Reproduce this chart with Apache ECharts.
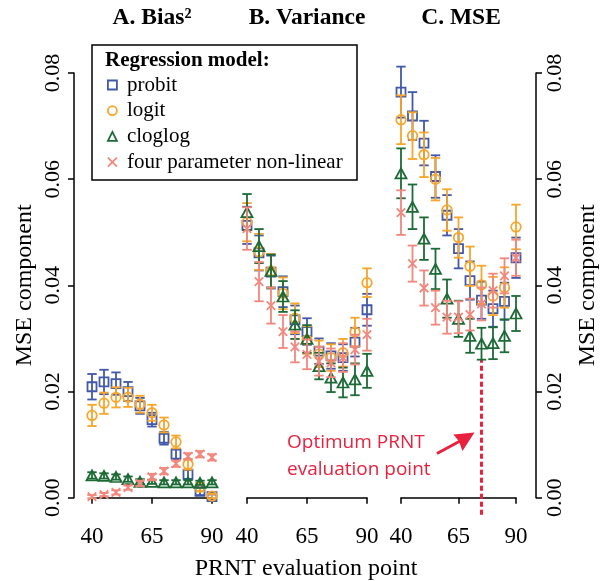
<!DOCTYPE html>
<html><head><meta charset="utf-8">
<script src="https://cdn.jsdelivr.net/npm/echarts@6/dist/echarts.min.js"></script>
<style>html,body{margin:0;padding:0;background:#fff}#c{width:601px;height:581px}</style>
</head><body><div id="c"></div>
<script>
// ---- data ----
const xs = [40, 45, 50, 55, 60, 65, 70, 75, 80, 85, 90];
const xTicks = [40, 65, 90];
const panelTitles = ['A. Bias\u00B2', 'B. Variance', 'C. MSE'];
const models = ['probit', 'logit', 'cloglog', 'four parameter non-linear'];

// Panel A: Bias^2
const biasProbit  = [0.0209, 0.0218, 0.0215, 0.0200, 0.0173, 0.0147, 0.0112, 0.0082, 0.0044, 0.0012, 0.0002];
const biasLogit   = [0.0155, 0.0178, 0.0189, 0.0189, 0.0176, 0.0160, 0.0137, 0.0105, 0.0063, 0.0020, 0.0003];
const biasCloglog = [0.0042, 0.0041, 0.0039, 0.0035, 0.0030, 0.0030, 0.0029, 0.0029, 0.0029, 0.0028, 0.0029];
const biasFpnl    = [0.0002, 0.0006, 0.0010, 0.0019, 0.0027, 0.0039, 0.0050, 0.0064, 0.0078, 0.0082, 0.0076];
const biasErrProbit  = [0.0024, 0.0023, 0.0021, 0.0018, 0.0015, 0.0013, 0.0012, 0.0010, 0.0009, 0.0007, 0.0004];
const biasErrLogit   = [0.0020, 0.0020, 0.0019, 0.0018, 0.0016, 0.0015, 0.0014, 0.0012, 0.0010, 0.0008, 0.0004];
const biasErrCloglog = [0.0006, 0.0005, 0.0005, 0.0005, 0.0005, 0.0004, 0.0004, 0.0004, 0.0004, 0.0004, 0.0004];
const biasErrFpnl    = [0.0003, 0.0003, 0.0004, 0.0004, 0.0005, 0.0006, 0.0006, 0.0006, 0.0006, 0.0006, 0.0006];

// Panel B: Variance
const varProbit  = [0.0513, 0.0461, 0.0425, 0.0388, 0.0335, 0.0313, 0.0276, 0.0267, 0.0264, 0.0293, 0.0354];
const varLogit   = [0.0519, 0.0463, 0.0427, 0.0385, 0.0338, 0.0297, 0.0271, 0.0264, 0.0273, 0.0312, 0.0405];
const varCloglog = [0.0538, 0.0474, 0.0427, 0.0379, 0.0326, 0.0299, 0.0248, 0.0226, 0.0217, 0.0223, 0.0239];
const varFpnl    = [0.0507, 0.0407, 0.0362, 0.0313, 0.0284, 0.0270, 0.0257, 0.0254, 0.0264, 0.0279, 0.0307];
const varErrProbit  = [0.0035, 0.0033, 0.0031, 0.0029, 0.0027, 0.0025, 0.0024, 0.0024, 0.0025, 0.0027, 0.0030];
const varErrLogit   = [0.0036, 0.0034, 0.0032, 0.0030, 0.0028, 0.0026, 0.0025, 0.0025, 0.0026, 0.0027, 0.0027];
const varErrCloglog = [0.0034, 0.0032, 0.0031, 0.0029, 0.0027, 0.0026, 0.0025, 0.0027, 0.0028, 0.0030, 0.0032];
const varErrFpnl    = [0.0040, 0.0037, 0.0034, 0.0031, 0.0029, 0.0028, 0.0027, 0.0027, 0.0027, 0.0028, 0.0030];

// Panel C: MSE
const mseProbit  = [0.0764, 0.0719, 0.0668, 0.0605, 0.0532, 0.0469, 0.0409, 0.0372, 0.0356, 0.0370, 0.0452];
const mseLogit   = [0.0712, 0.0682, 0.0646, 0.0600, 0.0542, 0.0490, 0.0436, 0.0401, 0.0380, 0.0396, 0.0510];
const mseCloglog = [0.0611, 0.0548, 0.0488, 0.0431, 0.0375, 0.0337, 0.0305, 0.0290, 0.0291, 0.0305, 0.0347];
const mseFpnl    = [0.0537, 0.0441, 0.0395, 0.0358, 0.0340, 0.0340, 0.0345, 0.0365, 0.0390, 0.0418, 0.0452];
const mseErrProbit  = [0.0048, 0.0045, 0.0042, 0.0040, 0.0038, 0.0037, 0.0036, 0.0035, 0.0034, 0.0035, 0.0038];
const mseErrLogit   = [0.0046, 0.0044, 0.0042, 0.0040, 0.0039, 0.0038, 0.0037, 0.0036, 0.0036, 0.0038, 0.0042];
const mseErrCloglog = [0.0047, 0.0042, 0.0040, 0.0038, 0.0036, 0.0034, 0.0032, 0.0030, 0.0030, 0.0031, 0.0033];
const mseErrFpnl    = [0.0042, 0.0034, 0.0033, 0.0032, 0.0031, 0.0030, 0.0030, 0.0031, 0.0032, 0.0033, 0.0034];

const optimumX = 75;
const yTicks = [0, 0.02, 0.04, 0.06, 0.08];

// ---- styling ----
const colors = ['#4159a8', '#f8a52a', '#1c6b36', '#f3877d'];
const symbols = ['rect', 'circle', 'triangle', 'path://M0,0L10,10M10,0L0,10'];
const symSizes = [9, 9.5, [11, 10], 8.5];
const serif = 'Liberation Serif';
const red = '#e8213f';

const panels = [
  {vals: [biasProbit, biasLogit, biasCloglog, biasFpnl], errs: [biasErrProbit, biasErrLogit, biasErrCloglog, biasErrFpnl]},
  {vals: [varProbit, varLogit, varCloglog, varFpnl], errs: [varErrProbit, varErrLogit, varErrCloglog, varErrFpnl]},
  {vals: [mseProbit, mseLogit, mseCloglog, mseFpnl], errs: [mseErrProbit, mseErrLogit, mseErrCloglog, mseErrFpnl]}
];

const gridLefts = [92, 247, 401];
const gridW = 120;
const gridTop = 73;
const gridBottom = 581 - 497.7;

const grids = gridLefts.map(l => ({left: l, width: gridW, top: gridTop, bottom: gridBottom, containLabel: false}));

const xAxes = gridLefts.map((l, i) => ({
  type: 'value', gridIndex: i, min: xTicks[0], max: xTicks[xTicks.length - 1], interval: 25,
  offset: 16.5,
  axisLine: {show: true, lineStyle: {color: '#000', width: 1.5}},
  axisTick: {show: true, length: 6, lineStyle: {color: '#000', width: 1.5}},
  axisLabel: {color: '#000', fontFamily: serif, fontSize: 23, margin: 11},
  splitLine: {show: false}
}));

const yBase = {
  type: 'value', min: yTicks[0], max: yTicks[yTicks.length - 1], interval: 0.02,
  splitLine: {show: false},
  axisLine: {show: true, lineStyle: {color: '#000', width: 1.5}},
  axisTick: {show: true, length: 6, lineStyle: {color: '#000', width: 1.5}},
  axisLabel: {color: '#000', fontFamily: serif, fontSize: 22, rotate: 90, margin: 10, formatter: v => v.toFixed(2)},
  name: 'MSE component', nameLocation: 'middle', nameRotate: 90,
  nameTextStyle: {color: '#000', fontFamily: serif, fontSize: 24}
};
const yAxes = [
  Object.assign({}, yBase, {gridIndex: 0, position: 'left', offset: 18, nameGap: 37}),
  Object.assign({}, yBase, {gridIndex: 1, show: false}),
  Object.assign({}, yBase, {gridIndex: 2, position: 'right', offset: 20, nameGap: 40, axisLabel: Object.assign({}, yBase.axisLabel, {margin: 8})})
];

const series = [];
panels.forEach((p, gi) => {
  models.forEach((m, k) => {
    const vals = p.vals[k], errs = p.errs[k], col = colors[k];
    series.push({
      type: 'custom', name: m + ' error', xAxisIndex: gi, yAxisIndex: gi, clip: false, silent: true,
      z: 2 + 2 * k,
      data: xs.map((x, i) => [x, vals[i] - errs[i], vals[i] + errs[i]]),
      renderItem: (params, api) => {
        const lo = api.coord([api.value(0), api.value(1)]);
        const hi = api.coord([api.value(0), api.value(2)]);
        const w = 4.7;
        const st = {stroke: col, lineWidth: 1.8, fill: null};
        return {type: 'group', children: [
          {type: 'line', shape: {x1: lo[0], y1: lo[1], x2: hi[0], y2: hi[1]}, style: st},
          {type: 'line', shape: {x1: lo[0] - w, y1: lo[1], x2: lo[0] + w, y2: lo[1]}, style: st},
          {type: 'line', shape: {x1: hi[0] - w, y1: hi[1], x2: hi[0] + w, y2: hi[1]}, style: st}
        ]};
      }
    });
    series.push({
      type: 'scatter', name: m, xAxisIndex: gi, yAxisIndex: gi, clip: false, silent: true,
      z: 3 + 2 * k,
      symbol: symbols[k], symbolSize: symSizes[k],
      itemStyle: {color: 'rgba(0,0,0,0)', borderColor: col, borderWidth: 1.8, opacity: 1},
      emphasis: {disabled: true},
      data: xs.map((x, i) => [x, vals[i]])
    });
  });
});

// optimum marker line in panel C
const cIdx = xs.indexOf(optimumX);
const yExt = (yTicks[yTicks.length - 1] - yTicks[0]) * 0.04;
series.push({
  type: 'line', name: 'optimum', xAxisIndex: 2, yAxisIndex: 2, clip: false, silent: true, z: 1,
  symbol: 'none',
  lineStyle: {color: red, width: 3, type: [5, 3]},
  data: [[optimumX, yTicks[0] - yExt], [optimumX, mseCloglog[cIdx] - mseErrCloglog[cIdx]]]
});

const graphics = [];
panelTitles.forEach((t, i) => {
  graphics.push({type: 'text', x: gridLefts[i] + gridW / 2, y: 18,
    style: {text: t, fontFamily: serif, fontWeight: 'bold', fontSize: 23.5, fill: '#000', align: 'center', verticalAlign: 'middle'}});
});
graphics.push({type: 'rect', shape: {x: 92, y: 45, width: 265, height: 135}, style: {fill: 'none', stroke: '#000', lineWidth: 1.5}, z: 10});
graphics.push({type: 'text', x: 105, y: 61, style: {text: 'Regression model:', fontFamily: serif, fontWeight: 'bold', fontSize: 21, fill: '#000', align: 'left', verticalAlign: 'middle'}, z: 10});
graphics.push({type: 'text', x: 306, y: 569, style: {text: 'PRNT evaluation point', fontFamily: serif, fontSize: 24, fill: '#000', align: 'center', verticalAlign: 'middle'}});
graphics.push({type: 'text', x: 287, y: 443, style: {text: 'Optimum PRNT', fontFamily: 'Open Sans', fontSize: 19, fill: red, align: 'left', verticalAlign: 'middle'}});
graphics.push({type: 'text', x: 287, y: 470, style: {text: 'evaluation point', fontFamily: 'Open Sans', fontSize: 19, fill: red, align: 'left', verticalAlign: 'middle'}});
graphics.push({type: 'line', shape: {x1: 437, y1: 453.5, x2: 462, y2: 440}, style: {stroke: red, lineWidth: 3}});
graphics.push({type: 'polygon', shape: {points: [[474.5, 432.5], [462.5, 451], [459, 441.5], [453.5, 434.5]]}, style: {fill: red}});

const option = {
  animation: false,
  backgroundColor: '#fff',
  grid: grids, xAxis: xAxes, yAxis: yAxes, series: series,
  legend: {
    orient: 'vertical', left: 107, top: 74.5, padding: 0, itemGap: 4.7, selectedMode: false,
    itemWidth: 9, itemHeight: 9, z: 11,
    textStyle: {fontFamily: serif, fontSize: 21, color: '#000', lineHeight: 21, padding: [0, 0, 0, 5]},
    data: models.map((m, k) => ({
      name: m, icon: symbols[k],
      itemStyle: {color: 'rgba(0,0,0,0)', borderColor: colors[k], borderWidth: 1.8}
    }))
  },
  graphic: graphics
};

const chart = echarts.init(document.getElementById('c'));
chart.setOption(option);
</script>
</body></html>
